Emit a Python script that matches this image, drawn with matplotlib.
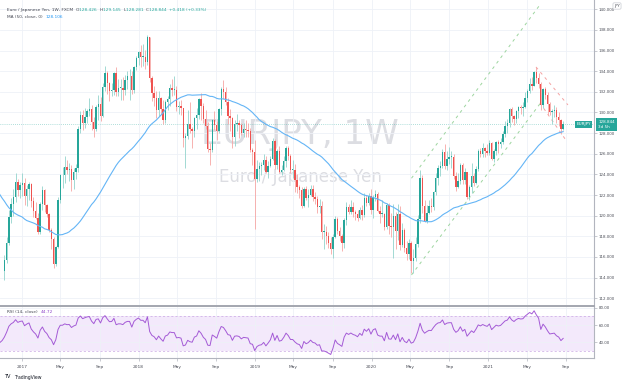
import numpy as np
import pandas as pd
import matplotlib
matplotlib.use("Agg")
import matplotlib.pyplot as plt
import matplotlib.transforms as mtrans

W, H = 624, 384

# weekly closes before the visible window (Nov 2015 - Oct 2016), only to warm up MA(50) / RSI(14)
warmup_close = [131.6, 131.2, 130.3, 134.3, 134.6, 131.6, 133.2, 130.7,
                128.7, 127.8, 128.1, 131.5, 129.9, 127.1, 125.9, 123.9, 124.6, 125.9, 125.6, 126.1, 128.8,
                123.2, 122.5, 125.0, 122.2, 123.3, 123.3, 123.7, 122.8, 120.4, 121.0, 118.7, 113.8, 116.4,
                113.9, 116.8, 117.1, 113.7, 113.3, 113.2, 113.7, 114.6, 116.3, 115.7, 114.3, 112.8, 113.5,
                114.2, 114.4, 113.8, 114.0, 114.6]

# weekly bars from week of 2016-11-07 to week of 2021-08-23
week0 = "2016-11-07"
first_open = 114.6
close = [115.7, 117.4, 119.9, 121.1, 121.8, 123.3, 122.5, 123.0,
         123.2, 121.9, 122.6, 123.1, 121.4, 120.5, 119.8, 118.4, 121.1, 122.5, 121.0, 120.2,
         118.6, 117.7, 115.3, 117.0, 121.5, 123.9, 123.9, 124.7, 124.4, 124.5, 123.5, 124.2,
         124.6, 128.4, 129.8, 129.0, 129.6, 130.1, 130.3, 129.1, 128.4, 130.5, 130.8, 129.7,
         132.5, 133.8, 132.9, 132.1, 132.2, 133.8, 132.0, 132.4, 132.4, 132.2, 133.1, 133.5,
         133.5, 132.2, 134.4, 135.3,
         135.9, 135.4, 135.4, 134.9, 137.3, 133.3, 131.9, 131.4, 130.2, 131.4, 130.3, 129.3,
         131.0, 131.3, 132.4, 132.2, 132.2, 130.5, 130.6, 130.4, 127.5, 127.7, 128.9, 128.4,
         128.2, 129.5, 129.8, 131.3, 130.6, 129.4, 128.7, 126.5, 126.4, 129.3, 128.8, 128.2,
         130.3, 132.3, 132.0, 131.0, 129.7, 129.5, 127.6, 128.9, 129.0, 128.8, 128.0, 128.4,
         128.3, 128.2, 126.4, 126.2,
         123.6, 124.5, 124.8, 124.9, 125.4, 124.2, 124.8, 125.5, 127.2, 124.9, 126.3, 124.2,
         124.4, 125.3, 126.6, 125.8, 124.4, 124.4, 123.5, 122.8, 122.5, 120.9, 122.6, 121.7,
         122.0, 122.6, 121.8, 121.6, 120.8, 120.9, 118.4, 118.4, 118.0, 117.4, 116.8, 117.9,
         119.7, 118.5, 118.0, 117.4, 119.6, 120.8, 120.4, 120.8, 120.4, 120.2, 119.8, 120.6,
         120.1, 121.7, 121.2, 121.9,
         120.6, 121.8, 122.1, 120.5, 120.2, 120.2, 118.9, 121.0, 119.0, 118.9, 120.0, 118.5,
         120.2, 117.2, 118.6, 116.9, 116.3, 117.4, 115.6, 115.9, 117.3, 119.7, 123.7, 120.9,
         119.5, 120.3, 120.9, 120.8, 122.3, 123.7, 124.6, 124.8, 126.2, 124.8, 125.5, 125.7,
         125.7, 123.8, 122.8, 123.4, 124.9, 123.5, 124.2, 121.8, 122.8, 123.8, 123.2, 124.5,
         126.3, 126.0, 126.6, 126.3,
         126.1, 127.0, 125.5, 126.3, 127.1, 126.9, 127.1, 127.9, 128.7, 129.0, 130.3, 129.7,
         129.4, 130.1, 130.5, 130.4, 130.5, 131.4, 132.1, 132.8, 132.6, 133.9, 133.3, 132.8,
         130.7, 132.3, 131.7, 130.8, 130.0, 130.1, 130.2, 129.6, 129.3, 128.426, 128.844]
high = [116.2, 117.9, 120.6, 121.7, 122.6, 124.1, 123.6, 123.3,
        124.1, 123.7, 123.0, 123.3, 123.2, 121.8, 121.3, 120.3, 121.3, 122.9, 122.6, 121.1,
        120.3, 118.8, 117.9, 117.1, 121.8, 124.0, 124.7, 125.8, 125.4, 125.1, 124.9, 124.6,
        125.0, 128.7, 130.1, 130.2, 130.4, 130.3, 131.4, 130.7, 129.6, 130.7, 131.7, 131.5,
        132.9, 134.5, 134.0, 133.0, 132.9, 133.9, 134.4, 133.2, 133.2, 133.4, 133.6, 134.0,
        134.2, 134.0, 134.5, 135.5,
        136.0, 136.5, 136.6, 136.1, 137.5, 137.3, 133.5, 132.6, 132.1, 132.1, 131.5, 131.2,
        131.2, 131.6, 132.8, 133.2, 133.5, 132.6, 131.1, 131.2, 130.4, 128.0, 130.2, 131.0,
        128.6, 129.6, 130.4, 131.4, 131.9, 130.9, 130.2, 129.1, 127.0, 129.4, 130.1, 129.2,
        130.4, 132.5, 133.1, 132.5, 131.4, 130.3, 129.6, 129.3, 129.9, 129.3, 129.0, 129.0,
        129.3, 129.0, 128.5, 126.6,
        127.3, 125.4, 125.2, 125.2, 126.0, 125.8, 125.3, 125.8, 127.5, 127.4, 126.5, 126.8,
        124.9, 125.8, 126.8, 126.8, 126.0, 125.4, 125.0, 124.0, 123.0, 122.8, 122.8, 122.9,
        122.6, 123.0, 123.0, 122.3, 121.9, 121.6, 121.4, 119.2, 119.0, 118.4, 117.9, 118.2,
        120.0, 119.9, 118.9, 118.2, 119.8, 121.3, 121.1, 121.5, 121.3, 120.6, 120.6, 120.8,
        121.0, 122.2, 122.0, 122.2,
        122.6, 122.0, 122.5, 122.3, 120.9, 121.5, 120.3, 121.2, 121.2, 120.3, 121.1, 120.4,
        121.1, 120.9, 119.3, 118.8, 117.5, 117.7, 117.5, 116.8, 117.9, 120.1, 124.4, 123.9,
        121.5, 121.0, 121.5, 121.7, 122.4, 124.1, 124.9, 125.3, 126.5, 126.9, 126.3, 126.7,
        126.3, 126.0, 124.2, 124.1, 125.1, 125.1, 124.6, 124.2, 123.0, 125.1, 124.1, 124.8,
        126.5, 126.6, 127.0, 126.7,
        126.9, 127.3, 127.1, 126.5, 127.2, 127.3, 127.5, 128.2, 129.2, 129.4, 130.4, 130.5,
        129.8, 130.2, 130.6, 130.7, 131.0, 132.0, 132.3, 133.3, 133.4, 134.0, 134.4, 133.8,
        133.0, 132.4, 132.5, 132.0, 131.0, 130.3, 130.7, 130.5, 130.0, 129.4, 129.145]
low = [113.8, 115.4, 117.2, 119.3, 120.0, 121.3, 121.9, 121.7,
       121.9, 121.0, 120.9, 121.5, 120.8, 119.9, 119.7, 118.2, 118.2, 120.6, 120.4, 119.9,
       118.4, 116.8, 114.9, 115.1, 116.9, 121.2, 122.7, 123.2, 124.0, 123.4, 122.4, 122.6,
       123.6, 124.2, 128.0, 128.3, 128.5, 129.0, 129.7, 128.3, 127.6, 128.2, 129.3, 129.2,
       129.6, 132.1, 131.8, 131.1, 131.6, 131.7, 131.6, 131.6, 131.2, 131.2, 131.7, 132.3,
       131.2, 131.8, 131.9, 134.1,
       134.6, 134.4, 134.5, 134.2, 134.6, 133.0, 131.1, 130.6, 129.5, 129.7, 129.9, 128.9,
       129.0, 130.2, 130.6, 131.6, 131.7, 130.1, 129.9, 129.8, 126.7, 124.6, 127.4, 128.0,
       126.6, 127.6, 128.4, 129.4, 129.3, 129.0, 128.4, 126.2, 124.9, 126.2, 128.3, 127.3,
       128.0, 129.8, 131.3, 130.7, 128.9, 128.2, 126.6, 126.8, 128.2, 127.5, 127.8, 127.6,
       127.6, 127.6, 126.2, 124.9,
       118.7, 123.3, 123.4, 123.9, 124.4, 124.1, 123.7, 124.7, 125.4, 124.5, 124.5, 124.1,
       123.9, 124.3, 124.7, 125.4, 124.1, 123.7, 122.3, 122.2, 121.7, 120.7, 120.8, 121.5,
       120.8, 121.9, 121.4, 121.1, 120.3, 120.3, 117.7, 116.8, 117.3, 116.9, 116.3, 115.9,
       117.8, 118.2, 117.5, 116.6, 116.9, 119.1, 120.2, 120.2, 119.9, 119.6, 119.5, 119.7,
       119.6, 119.9, 120.9, 121.0,
       120.2, 119.8, 121.4, 120.4, 119.3, 119.9, 118.6, 118.7, 118.2, 117.9, 115.9, 116.8,
       117.6, 116.7, 117.0, 116.5, 115.7, 115.8, 114.4, 114.4, 115.6, 117.0, 119.3, 120.3,
       119.4, 119.3, 120.2, 120.4, 120.6, 122.0, 123.0, 123.8, 124.6, 124.5, 124.4, 125.0,
       124.6, 123.6, 122.4, 122.7, 123.1, 123.1, 123.1, 121.6, 121.5, 122.2, 122.9, 123.1,
       124.3, 125.7, 125.7, 125.7,
       125.9, 125.9, 125.4, 125.2, 125.9, 126.1, 126.6, 126.9, 127.6, 128.0, 128.6, 129.1,
       128.8, 129.0, 129.5, 129.9, 129.7, 130.4, 131.0, 131.9, 132.2, 132.6, 132.9, 132.4,
       130.2, 130.4, 131.3, 129.8, 129.8, 128.9, 129.6, 129.0, 128.7, 127.9, 128.281]

price_ticks = list(range(112, 141, 2))
rsi_ticks = [40, 60, 80]
date_ticks = ["2017-01-01", "2017-05-01", "2017-09-01", "2018-01-01", "2018-05-01", "2018-09-01",
              "2019-01-01", "2019-05-01", "2019-09-01", "2020-01-01", "2020-05-01", "2020-09-01",
              "2021-01-01", "2021-05-01", "2021-09-01"]
date_labels = ["2017", "May", "Sep", "2018", "May", "Sep", "2019", "May", "Sep",
               "2020", "May", "Sep", "2021", "May", "Sep"]

# drawn trend lines (dates, prices)
green_lines = [(["2020-05-05", "2021-06-11"], [114.26, 130.83]),
               (["2020-05-05", "2021-06-11"], [123.63, 140.42])]
red_lines = [(["2021-05-30", "2021-09-07"], [134.41, 130.73]),
             (["2021-06-11", "2021-08-29"], [130.93, 127.44])]

ohlc_text = ["128.426", "129.145", "128.281", "128.844"]
change_text = "+0.418 (+0.33%)"
ma_text = "128.106"
rsi_text = "44.72"
last_price = 128.844
countdown = "3d 5h"

UP, DOWN = "#26a69a", "#ef5350"
DARK = "#434651"

t0 = pd.Timestamp(week0)


def wk(d):
    return (pd.Timestamp(d) - t0).days / 7.0


n = len(close)
x = np.arange(n)
c = np.array(close)
o = np.array([first_open] + close[:-1])
hi = np.maximum(np.array(high), np.maximum(o, c))
lo = np.minimum(np.array(low), np.minimum(o, c))

allc = pd.Series(warmup_close + close)
xa = np.arange(-len(warmup_close), n)
ma = allc.rolling(50).mean()
d = allc.diff()
gain = d.clip(lower=0).ewm(alpha=1 / 14, adjust=False).mean()
loss = (-d.clip(upper=0)).ewm(alpha=1 / 14, adjust=False).mean()
rsi = 100 - 100 / (1 + gain / loss)

fig = plt.figure(figsize=(W / 100, H / 100), dpi=100)
fig.patch.set_facecolor("white")


def box(l, t, r, b):
    return [l / W, 1 - b / H, (r - l) / W, (b - t) / H]


ax = fig.add_axes(box(0, 0, 594, 306))
rx = fig.add_axes(box(0, 306, 594, 358), sharex=ax)

# watermark
ax.text(0.505, 0.562, "EURJPY, 1W", transform=ax.transAxes, ha="center", va="center",
        fontsize=24.5, color="#dcdde2", zorder=0)
ax.text(0.505, 0.422, "Euro / Japanese Yen", transform=ax.transAxes, ha="center", va="center",
        fontsize=12, color="#dcdde2", zorder=0)

# candles
rising = c >= o
body_col = np.where(rising, UP, DOWN)
wick_col = np.where(rising, "#93d3cc", "#f6a6a4")
ax.vlines(x, lo, hi, colors=wick_col, lw=0.6, zorder=3)
ax.bar(x, np.maximum(np.abs(c - o), 0.08), bottom=np.minimum(o, c), width=0.62,
       color=body_col, lw=0, zorder=4)

ax.plot(xa, ma, color="#64b5f6", lw=0.8, zorder=5)

for dates, prices in green_lines:
    ax.plot([wk(s) for s in dates], prices, color="#9dd59f", lw=0.7, ls=(0, (3, 4)), zorder=2)
for dates, prices in red_lines:
    ax.plot([wk(s) for s in dates], prices, color="#f4a2a2", lw=0.7, ls=(0, (3, 4)), zorder=2)

ax.axhline(last_price, color=UP, lw=0.5, ls=(0, (1, 2)), alpha=0.7, zorder=1)

ax.set_xlim(-1.97, 263.8)
ax.set_ylim(111.25, 140.9)
ax.yaxis.tick_right()
ax.set_yticks(price_ticks)
ax.set_yticklabels([f"{p:.3f}" for p in price_ticks])
ax.tick_params(axis="y", length=2, width=0.5, color="#b2b5be", labelsize=2.9,
               labelcolor="#4a4d57", pad=1.5)
ax.tick_params(axis="x", length=0, labelbottom=False)
ax.grid(color="#eef1f7", lw=0.6, zorder=0)
ax.set_axisbelow(True)
for s in ["top", "left", "bottom"]:
    ax.spines[s].set_visible(False)
ax.spines["right"].set_color("#b2b5be")
ax.spines["right"].set_linewidth(0.8)

tr = mtrans.blended_transform_factory(ax.transAxes, ax.transData)
ax.text(0.995, last_price, "EURJPY", transform=tr, ha="right", va="center", fontsize=3.0,
        color="white", bbox=dict(boxstyle="square,pad=0.35", fc=UP, ec="none"), zorder=6)
ax.text(1.007, last_price, f"{last_price:.3f}\n{countdown}", transform=tr, ha="left", va="center",
        fontsize=3.0, color="white", linespacing=1.35,
        bbox=dict(boxstyle="square,pad=0.45", fc=UP, ec="none"), clip_on=False, zorder=7)

# RSI pane
rx.axhspan(30, 70, color="#f3e9fb", lw=0, zorder=0)
for lvl in (70, 30):
    rx.axhline(lvl, color="#c9a6e3", lw=0.5, ls=(0, (3, 3)), zorder=1)
rx.plot(xa, rsi, color="#a45ad6", lw=0.7, zorder=3)
rx.set_ylim(21.9, 82.0)
rx.yaxis.tick_right()
rx.set_yticks(rsi_ticks)
rx.set_yticklabels([f"{v:.2f}" for v in rsi_ticks])
rx.set_xticks([wk(s) for s in date_ticks])
rx.set_xticklabels(date_labels)
rx.tick_params(axis="y", length=2, width=0.5, color="#b2b5be", labelsize=2.9,
               labelcolor="#4a4d57", pad=1.5)
rx.tick_params(axis="x", length=2, width=0.5, color="#b2b5be", labelsize=3.2,
               labelcolor="#4a4d57", pad=3)
rx.grid(color="#eef1f7", lw=0.6, zorder=0)
rx.set_axisbelow(True)
rx.spines["left"].set_visible(False)
for s in ["right", "bottom"]:
    rx.spines[s].set_color("#b2b5be")
    rx.spines[s].set_linewidth(0.8)
rx.spines["top"].set_color("#a3a6af")
rx.spines["top"].set_linewidth(1.4)
rx.set_xlim(-1.97, 263.8)

# header rows
renderer = fig.canvas.get_renderer()


def text_row(x0, y0, parts, size=3.1):
    xp = x0
    for s, col in parts:
        t = fig.text(xp / W, 1 - y0 / H, s, fontsize=size, color=col, ha="left", va="center")
        xp += t.get_window_extent(renderer=renderer).width


text_row(7, 10, [("Euro / Japanese Yen, 1W, FXCM  ", DARK),
                 ("O", DARK), (ohlc_text[0] + "  ", UP),
                 ("H", DARK), (ohlc_text[1] + "  ", UP),
                 ("L", DARK), (ohlc_text[2] + "  ", UP),
                 ("C", DARK), (ohlc_text[3] + "  ", UP),
                 (change_text, UP)])
text_row(7, 17, [("MA (50, close, 0)  ", DARK), (ma_text, "#2196f3")])
text_row(7, 312, [("RSI (14, close)  ", DARK), (rsi_text, "#8e44c9")])

fig.text(617 / W, 1 - 6 / H, "JPY", fontsize=2.8, ha="center", va="center", color="#4a4d57",
         bbox=dict(boxstyle="round,pad=0.3", fc="white", ec="#c9ccd3", lw=0.5))

text_row(4, 377, [("TV ", "#131722")], size=3.6)
fig.text(14 / W, 1 - 377 / H, "TradingView", fontsize=3.3, color="#131722", ha="left", va="center")

fig.savefig("out.png", dpi=100)
